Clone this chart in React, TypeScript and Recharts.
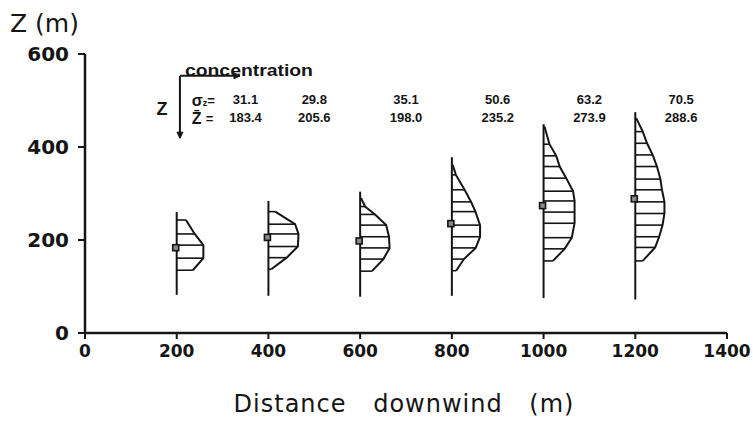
import {
  ComposedChart,
  XAxis,
  YAxis,
  Line,
  Scatter,
  ReferenceLine,
  ReferenceDot,
} from 'recharts'

const distances = [200, 400, 600, 800, 1000, 1200]
const sigmaZ = [31.1, 29.8, 35.1, 50.6, 63.2, 70.5]
const meanZ = [183.4, 205.6, 198.0, 235.2, 273.9, 288.6]
const xTicks = [0, 200, 400, 600, 800, 1000, 1200, 1400]
const zTicks = [0, 200, 400, 600]

// vertical concentration profiles: heights (m) and relative concentration (% of peak)
const z200 = [243, 213, 189, 161, 135]
const c200 = [30, 58, 86, 86, 52]
const z400 = [261, 234, 213, 186, 162, 137]
const c400 = [22, 86, 97, 95, 59, 9]
const z600 = [290, 272, 255, 232, 207, 183, 159, 133]
const c600 = [3, 16, 48, 84, 93, 95, 75, 38]
const z800 = [361, 340, 308, 282, 261, 232, 207, 183, 159, 134]
const c800 = [3, 13, 41, 62, 76, 91, 91, 77, 39, 14]
const z1000 = [444, 406, 381, 358, 333, 305, 284, 260, 236, 205, 181, 155]
const c1000 = [3, 19, 41, 52, 73, 95, 100, 100, 100, 91, 68, 30]
const z1200 = [462, 433, 408, 383, 358, 331, 308, 282, 257, 232, 207, 184, 155]
const c1200 = [3, 24, 38, 56, 70, 81, 86, 94, 94, 88, 77, 64, 24]

// sampled height range of each profile mast (m)
const stemTop = [260, 284, 304, 378, 449, 475]
const stemBottom = [82, 80, 78, 80, 75, 72]

const profileZ = [z200, z400, z600, z800, z1000, z1200]
const profileC = [c200, c400, c600, c800, c1000, c1200]

const INK = '#151515'
const TICK_FONT = '"DejaVu Sans", sans-serif'
const NUM_FONT = '"Liberation Sans", Arial, sans-serif'
const CONC_M = 0.676 // metres of x axis per % of concentration

// little key in the upper left, in data units
const KEY_X = 207
const KEY_TOP = 553
const KEY_END = 419
const KEY_RIGHT = 338
const ROW_SIGMA = 502
const ROW_MEAN = 463
const colX = (i: number) => distances[i] + (i === 0 ? 150 : 100)

const textAt = (content: React.ReactNode, extra: Record<string, unknown> = {}) =>
  (p: any) => (
    <text
      x={p.cx}
      y={p.cy}
      fill={INK}
      fontFamily={NUM_FONT}
      fontWeight="bold"
      fontSize={13}
      textAnchor="middle"
      dominantBaseline="central"
      {...extra}
    >
      {content}
    </text>
  )

const arrowRight = (p: any) => (
  <path d={`M${p.cx - 6},${p.cy - 3} L${p.cx},${p.cy} L${p.cx - 6},${p.cy + 3} Z`} fill={INK} stroke={INK} />
)
const arrowDown = (p: any) => (
  <path d={`M${p.cx - 3},${p.cy - 6} L${p.cx},${p.cy} L${p.cx + 3},${p.cy - 6} Z`} fill={INK} stroke={INK} />
)

const meanMarker = (p: any) => (
  <rect x={p.cx - 4} y={p.cy - 3} width={6} height={6} fill="#8a8a8a" stroke={INK} strokeWidth={1.6} />
)

export default function App() {
  const markers = distances.map((d, i) => ({ x: d, z: meanZ[i] }))

  return (
    <div>
      <style>{'body{margin:0;background:#fff}'}</style>
      <ComposedChart width={753} height={422} margin={{ top: 54, right: 26, bottom: 0, left: 0 }}>
        <XAxis
          type="number"
          dataKey="x"
          domain={[0, 1400]}
          ticks={xTicks}
          interval={0}
          height={89}
          axisLine={{ stroke: INK, strokeWidth: 2.5 }}
          tickLine={{ stroke: INK, strokeWidth: 2 }}
          tickSize={6}
          tickMargin={6}
          tick={{ fill: INK, fontSize: 17, fontWeight: 'bold', fontFamily: TICK_FONT }}
          label={{
            content: (props: any) => {
              const vb = props.viewBox
              return (
                <text
                  x={vb.x + vb.width / 2 - 2}
                  y={vb.y + 79}
                  textAnchor="middle"
                  fill={INK}
                  fontFamily={TICK_FONT}
                  fontSize={24}
                  letterSpacing={1}
                  wordSpacing={18}
                >
                  Distance downwind (m)
                </text>
              )
            },
          }}
        />
        <YAxis
          type="number"
          dataKey="z"
          domain={[0, 600]}
          ticks={zTicks}
          interval={0}
          width={85}
          axisLine={{ stroke: INK, strokeWidth: 2.5 }}
          tickLine={{ stroke: INK, strokeWidth: 2 }}
          tickSize={7}
          tickMargin={9}
          tick={{ fill: INK, fontSize: 20, fontWeight: 'bold', fontFamily: TICK_FONT }}
          label={{
            content: (props: any) => {
              const vb = props.viewBox
              return (
                <text x={vb.x + 10} y={vb.y - 22} fill={INK} fontFamily={TICK_FONT} fontSize={25}>
                  Z (m)
                </text>
              )
            },
          }}
        />

        {/* key: concentration to the right, Z downwards */}
        <ReferenceLine segment={[{ x: KEY_X, y: KEY_TOP }, { x: KEY_RIGHT, y: KEY_TOP }]} stroke={INK} strokeWidth={2} />
        <ReferenceLine segment={[{ x: KEY_X, y: KEY_TOP }, { x: KEY_X, y: KEY_END }]} stroke={INK} strokeWidth={2} />
        <ReferenceDot x={KEY_RIGHT} y={KEY_TOP} shape={arrowRight} />
        <ReferenceDot x={KEY_X} y={KEY_END} shape={arrowDown} />
        <ReferenceDot
          x={218}
          y={KEY_TOP + 12}
          shape={textAt('concentration', { textAnchor: 'start', fontSize: 17, textLength: 128, lengthAdjust: 'spacingAndGlyphs' })}
        />
        <ReferenceDot x={168} y={(ROW_SIGMA + ROW_MEAN) / 2} shape={textAt('Z', { fontSize: 18 })} />
        <ReferenceDot
          x={233}
          y={ROW_SIGMA}
          shape={textAt(
            <>
              <tspan fontSize={16}>σ</tspan>
              <tspan fontSize={9} dy={3}>z</tspan>
              <tspan dy={-3}>=</tspan>
            </>,
            { textAnchor: 'start' },
          )}
        />
        <ReferenceDot
          x={233}
          y={ROW_MEAN}
          shape={textAt(
            <>
              <tspan fontSize={16}>{'Z\u0304'}</tspan>
              <tspan dx={4}>=</tspan>
            </>,
            { textAnchor: 'start' },
          )}
        />
        {distances.map((d, i) => (
          <ReferenceDot key={`s${d}`} x={colX(i)} y={ROW_SIGMA} shape={textAt(sigmaZ[i].toFixed(1))} />
        ))}
        {distances.map((d, i) => (
          <ReferenceDot key={`m${d}`} x={colX(i)} y={ROW_MEAN} shape={textAt(meanZ[i].toFixed(1))} />
        ))}

        {/* profile masts */}
        {distances.map((d, i) => (
          <ReferenceLine
            key={`stem${d}`}
            segment={[{ x: d, y: stemBottom[i] }, { x: d, y: stemTop[i] }]}
            stroke={INK}
            strokeWidth={2}
          />
        ))}

        {/* hatching from mast to profile */}
        {distances.flatMap((d, i) =>
          profileZ[i].map((z, k) => (
            <ReferenceLine
              key={`h${d}-${k}`}
              segment={[{ x: d, y: z }, { x: d + profileC[i][k] * CONC_M, y: z }]}
              stroke={INK}
              strokeWidth={1.6}
            />
          )),
        )}

        {distances.map((d, i) => (
          <Line
            key={`p${d}`}
            data={profileZ[i].map((z, k) => ({ x: d + profileC[i][k] * CONC_M, z }))}
            dataKey="z"
            type="linear"
            stroke={INK}
            strokeWidth={2}
            dot={false}
            activeDot={false}
            isAnimationActive={false}
          />
        ))}

        <Scatter data={markers} dataKey="z" shape={meanMarker} isAnimationActive={false} />
      </ComposedChart>
    </div>
  )
}
